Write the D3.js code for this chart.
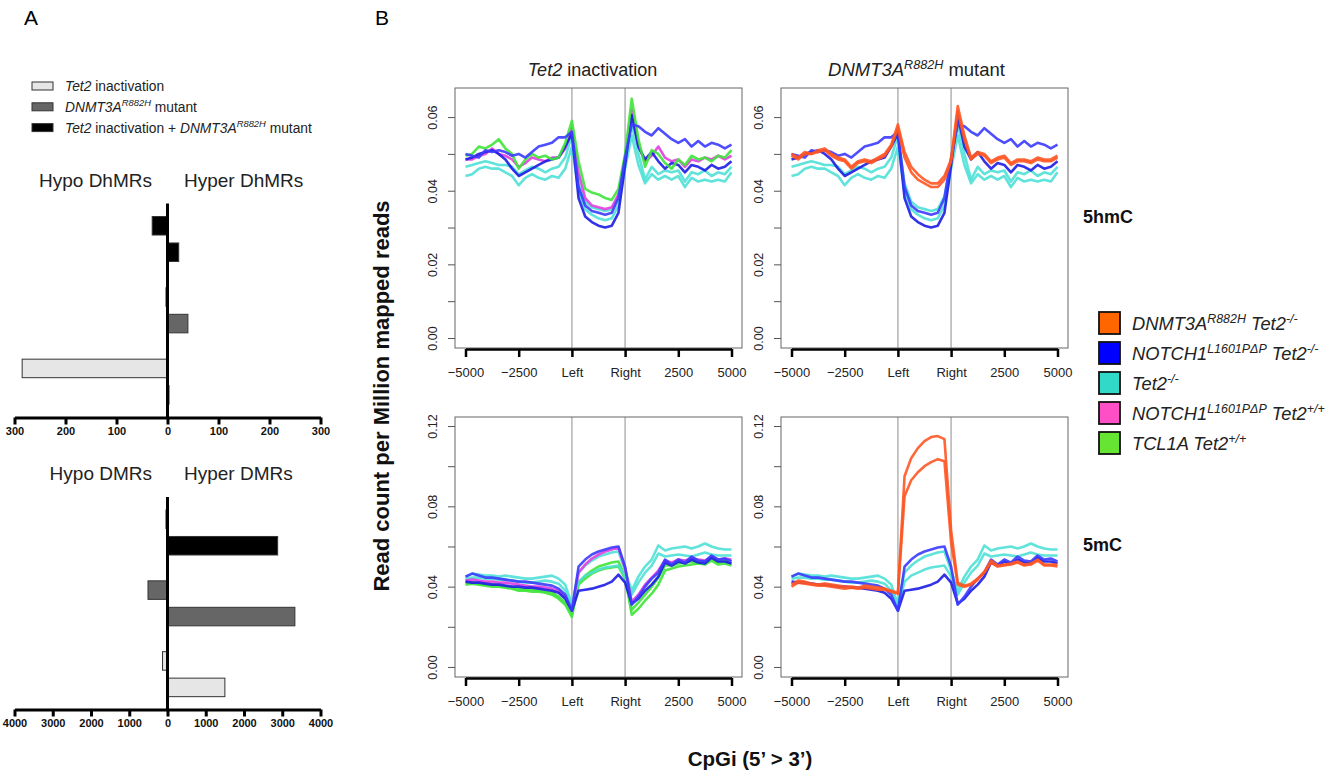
<!DOCTYPE html>
<html>
<head>
<meta charset="utf-8">
<script src="https://cdn.jsdelivr.net/npm/d3@7"></script>
<style>
body { margin: 0; background: #fff; }
svg { font-family: "Liberation Sans", Arial, Helvetica, sans-serif; }
text { white-space: pre; }
</style>
</head>
<body>
<svg id="fig" width="1343" height="777"></svg>
<script>
// ---------- Panel A data (number of regions) ----------
const barGroups = ['both', 'dnmt3a', 'tet2'];
const dhmrHypo = [-30, -3, -285];
const dhmrHyper = [22, 40, 3];
const dmrHypo = [-40, -510, -130];
const dmrHyper = [2880, 3330, 1500];
const dhmrTicks = [-300, -200, -100, 0, 100, 200, 300];
const dmrTicks = [-4000, -3000, -2000, -1000, 0, 1000, 2000, 3000, 4000];

// ---------- Panel B data (read count per million, x 1e-3) ----------
// 41 bins: 0-16 upstream flank, 16-24 CpG island body, 24-40 downstream flank
const bins = d3.range(41);
const xTickBins = [0, 8, 16, 24, 32, 40];
const xTickLabels = ['\u22125000', '\u22122500', 'Left', 'Right', '2500', '5000'];

// 5hmC
const hmcBlueHi = [50.0, 49.5, 49.0, 51.0, 50.5, 51.0, 50.5, 49.5, 50.0, 49.0, 50.5, 52.0, 52.5, 53.0, 54.5, 54.5, 56.0,
  41.0, 36.0, 34.5, 34.0, 33.5, 34.0, 38.0, 49.0,
  58.0, 57.5, 56.0, 55.0, 57.0, 55.5, 54.0, 53.0, 54.0, 52.0, 53.5, 52.0, 53.0, 52.5, 51.5, 52.5];
const hmcBlueLo = [48.5, 49.0, 50.0, 50.5, 51.0, 50.0, 48.5, 46.0, 44.0, 45.0, 46.0, 47.0, 48.0, 48.5, 49.0, 52.0, 55.5,
  38.0, 33.0, 31.5, 30.5, 30.0, 30.5, 34.0, 47.0,
  60.5, 52.0, 48.5, 50.5, 48.0, 46.0, 47.5, 47.0, 45.0, 47.0, 46.5, 45.5, 47.0, 46.0, 46.5, 48.0];
const hmcTurqA = [46.5, 47.0, 47.5, 48.0, 47.5, 47.0, 47.0, 46.5, 44.5, 45.5, 46.5, 46.0, 45.0, 46.0, 46.5, 49.0, 55.0,
  42.0, 37.0, 35.5, 35.0, 34.5, 35.0, 38.5, 48.0,
  58.0, 50.0, 43.0, 46.5, 44.5, 45.5, 45.0, 45.5, 42.5, 45.0, 44.5, 45.5, 44.0, 45.0, 44.5, 46.5];
const hmcTurqB = [44.0, 44.5, 46.0, 46.5, 46.0, 46.0, 45.0, 44.0, 41.5, 43.5, 44.5, 43.5, 43.0, 44.0, 43.5, 46.0, 52.0,
  40.0, 35.0, 33.5, 32.5, 32.0, 32.5, 36.0, 46.0,
  55.0, 47.0, 42.0, 44.5, 43.0, 44.0, 43.0, 44.0, 41.0, 43.5, 42.5, 43.0, 42.5, 43.0, 42.5, 45.0];
const hmcMagenta = [48.5, 48.5, 49.5, 50.0, 51.5, 50.0, 49.5, 48.5, 46.5, 47.5, 49.0, 48.5, 48.0, 49.0, 49.0, 51.5, 57.0,
  45.0, 38.0, 36.0, 35.5, 35.0, 35.5, 39.0, 49.0,
  62.0, 52.0, 48.0, 49.5, 52.0, 49.0, 48.0, 48.5, 46.5, 48.5, 48.0, 49.0, 48.5, 49.5, 48.5, 49.5];
const hmcGreen = [49.5, 50.0, 52.0, 51.5, 52.5, 54.0, 51.5, 50.0, 46.0, 48.5, 50.0, 49.0, 49.5, 48.5, 49.0, 53.0, 59.0,
  48.0, 40.5, 39.5, 39.0, 38.0, 37.5, 40.5, 50.0,
  65.0, 54.0, 46.5, 51.0, 50.0, 47.5, 46.0, 48.5, 47.0, 49.5, 48.5, 49.0, 48.0, 49.5, 49.0, 51.0];
const hmcOrangeA = [50.0, 49.0, 50.5, 50.0, 51.0, 51.5, 50.0, 49.0, 48.5, 46.5, 48.0, 48.5, 48.0, 49.0, 50.0, 52.5, 58.0,
  50.5, 46.5, 44.5, 43.0, 42.0, 42.0, 44.0, 48.5,
  63.0, 55.0, 49.0, 50.5, 50.0, 48.0, 49.0, 49.5, 47.5, 48.5, 48.5, 48.0, 49.0, 48.5, 48.5, 49.5];
const hmcOrangeB = [49.5, 48.5, 50.0, 50.0, 50.5, 51.0, 49.5, 48.5, 48.0, 46.0, 47.5, 48.0, 47.5, 48.5, 49.5, 52.0, 57.0,
  49.0, 45.0, 43.0, 42.0, 41.0, 41.0, 43.0, 48.0,
  61.5, 54.0, 48.5, 50.0, 49.5, 47.5, 48.5, 49.0, 47.0, 48.0, 48.0, 47.5, 48.5, 48.0, 48.0, 49.0];

// 5mC
const mcBlueHi = [45.0, 46.5, 45.5, 44.5, 44.5, 44.0, 43.5, 43.0, 42.5, 42.5, 42.0, 41.5, 41.0, 40.5, 39.0, 36.0, 28.0,
  50.0, 53.5, 56.0, 57.5, 58.5, 59.5, 60.0, 50.0,
  31.0, 35.0, 40.0, 44.0, 47.0, 53.5, 51.0, 53.5, 52.0, 55.0, 53.0, 52.5, 55.5, 53.5, 54.0, 52.5];
const mcBlueLo = [42.5, 42.0, 42.0, 41.5, 41.0, 41.0, 40.5, 40.0, 40.0, 39.5, 39.5, 39.0, 38.5, 38.0, 37.0, 34.0, 28.0,
  38.0, 38.5, 39.0, 40.0, 41.0, 42.5, 46.0, 42.0,
  31.5, 34.0, 38.0, 41.0, 45.0, 52.0, 50.5, 52.5, 51.5, 53.5, 52.0, 51.5, 54.5, 52.5, 52.5, 51.5];
const mcTurqA = [45.0, 46.5, 46.0, 45.5, 45.5, 45.0, 45.5, 45.0, 44.5, 44.0, 44.0, 44.5, 45.0, 45.5, 44.0, 41.0, 31.0,
  47.0, 50.5, 53.0, 55.0, 56.0, 57.0, 57.5, 48.0,
  38.0, 45.0, 50.0, 53.5, 60.5, 58.0, 59.0, 59.5, 60.0, 59.0, 60.0, 61.5, 60.0, 59.0, 58.5, 58.5];
const mcTurqB = [44.0, 44.5, 44.5, 44.0, 44.0, 43.5, 43.5, 43.0, 42.5, 42.0, 42.0, 42.5, 43.0, 42.5, 41.5, 38.0, 30.0,
  42.5, 45.5, 47.0, 48.5, 49.5, 50.0, 50.5, 45.0,
  36.0, 42.0, 47.0, 50.5, 56.5, 55.0, 55.5, 56.0, 55.5, 55.0, 56.0, 57.0, 56.0, 55.5, 55.5, 55.5];
const mcMagenta = [43.0, 43.5, 43.0, 42.5, 42.5, 42.0, 42.0, 41.5, 41.0, 40.5, 40.0, 40.0, 39.5, 39.0, 38.0, 35.0, 28.5,
  47.0, 51.0, 54.0, 56.0, 57.5, 58.5, 59.5, 49.0,
  32.5, 36.0, 41.0, 44.5, 48.0, 53.0, 52.0, 53.5, 53.0, 54.0, 53.5, 53.0, 55.0, 53.5, 54.0, 53.5];
const mcGreenA = [41.0, 41.5, 41.0, 40.5, 40.0, 40.0, 39.5, 39.0, 38.0, 38.0, 37.5, 37.5, 37.0, 36.0, 34.0, 31.0, 25.0,
  42.0, 45.5, 48.0, 50.0, 51.0, 52.0, 52.5, 45.0,
  26.0, 29.0, 33.0, 36.5, 41.0, 48.0, 49.0, 50.0, 50.5, 51.0, 51.5, 51.0, 53.0, 51.0, 51.5, 50.5];
const mcGreenB = [42.0, 42.0, 41.5, 41.0, 41.0, 40.5, 40.0, 39.5, 39.0, 38.5, 38.5, 38.0, 37.5, 37.0, 35.0, 32.0, 26.5,
  41.0, 44.0, 46.5, 48.0, 49.0, 49.5, 50.0, 44.0,
  28.5, 32.0, 36.0, 40.0, 44.5, 50.5, 50.5, 51.5, 52.0, 52.5, 52.0, 52.0, 54.0, 52.0, 53.0, 51.5];
const mcOrangeA = [41.0, 43.0, 42.5, 41.5, 41.0, 41.5, 41.0, 40.5, 40.0, 40.0, 39.5, 40.5, 40.0, 39.5, 39.0, 38.0, 37.0,
  95.0, 104.0, 109.0, 112.5, 114.5, 115.0, 113.5, 68.0,
  42.0, 40.5, 41.5, 44.0, 47.5, 53.0, 50.5, 51.0, 51.5, 52.5, 51.0, 51.5, 53.5, 51.0, 51.0, 51.0];
const mcOrangeB = [40.0, 42.0, 41.5, 41.0, 40.5, 40.5, 40.0, 39.5, 39.0, 39.5, 39.0, 39.5, 39.0, 38.5, 38.5, 37.5, 36.5,
  85.0, 93.0, 97.0, 100.0, 102.0, 103.5, 102.5, 62.0,
  41.0, 40.0, 41.0, 43.5, 47.0, 52.0, 50.0, 50.5, 51.0, 52.0, 50.5, 51.0, 53.0, 50.5, 50.5, 50.0];

const legendLabels = [
  [{t: 'DNMT3A', it: 1}, {t: 'R882H', it: 1, sup: 1}, {t: ' Tet2', it: 1}, {t: '-/-', it: 1, sup: 1}],
  [{t: 'NOTCH1', it: 1}, {t: 'L1601P\u0394P', it: 1, sup: 1}, {t: ' Tet2', it: 1}, {t: '-/-', it: 1, sup: 1}],
  [{t: 'Tet2', it: 1}, {t: '-/-', it: 1, sup: 1}],
  [{t: 'NOTCH1', it: 1}, {t: 'L1601P\u0394P', it: 1, sup: 1}, {t: ' Tet2', it: 1}, {t: '+/+', it: 1, sup: 1}],
  [{t: 'TCL1A Tet2', it: 1}, {t: '+/+', it: 1, sup: 1}]
];
const legendSwatch = ['#ff6600', '#0000ff', '#30d9c8', '#ff4fc6', '#66e633'];

// ---------- styles ----------
const FONT = '"Liberation Sans", Arial, Helvetica, sans-serif';
const barFill = {both: '#000000', dnmt3a: '#666666', tet2: '#e6e6e6'};
const col = {blueHi: '#3b3bff', blueLo: '#1c1ce6', turq: '#4ee0d6', magenta: '#e13fe0', green: '#3fe63a', orange: '#ff5522'};

const svg = d3.select('#fig');

function richText(sel, parts, fs) {
  let up = false;
  parts.forEach(p => {
    const t = sel.append('tspan').text(p.t);
    if (p.it) t.attr('font-style', 'italic');
    if (p.sup) {
      t.attr('font-size', fs * 0.68);
      if (!up) { t.attr('dy', -fs * 0.4); up = true; }
    } else if (up) {
      t.attr('dy', fs * 0.4); up = false;
    }
  });
  return sel;
}

// ---------- Panel A ----------
svg.append('text').attr('x', 24).attr('y', 25).attr('font-size', 21).text('A');

const aLegend = [
  {k: 'tet2', parts: [{t: 'Tet2', it: 1}, {t: ' inactivation'}]},
  {k: 'dnmt3a', parts: [{t: 'DNMT3A', it: 1}, {t: 'R882H', it: 1, sup: 1}, {t: ' mutant'}]},
  {k: 'both', parts: [{t: 'Tet2', it: 1}, {t: ' inactivation + '}, {t: 'DNMT3A', it: 1}, {t: 'R882H', it: 1, sup: 1}, {t: ' mutant'}]}
];
aLegend.forEach((d, i) => {
  const yy = 82 + i * 20.8;
  svg.append('rect').attr('x', 32).attr('y', yy).attr('width', 21).attr('height', 8)
    .attr('fill', barFill[d.k]).attr('stroke', '#333').attr('stroke-width', 1);
  richText(svg.append('text').attr('x', 65).attr('y', yy + 9).attr('font-size', 13.8).attr('fill', '#222'), d.parts, 13.8);
});

function drawBars(top, bottom, domainMax, ticks, hypo, hyper, titleY, titles) {
  const x = d3.scaleLinear().domain([-domainMax, domainMax]).range([14.5, 320.5]);
  const gY = d3.scaleBand().domain(barGroups).range([top, bottom]);
  const inner = d3.scaleBand().domain(['hypo', 'hyper']).range([13, 58]).paddingInner(0.3);
  const g = svg.append('g');
  g.append('text').attr('x', 152).attr('y', titleY).attr('text-anchor', 'end')
    .attr('font-size', 19).attr('fill', '#222').text(titles[0]);
  g.append('text').attr('x', 184).attr('y', titleY).attr('font-size', 19).attr('fill', '#222').text(titles[1]);
  const rows = [];
  barGroups.forEach((k, i) => {
    rows.push({k, side: 'hypo', v: hypo[i]});
    rows.push({k, side: 'hyper', v: hyper[i]});
  });
  g.selectAll('rect.bar').data(rows).join('rect').attr('class', 'bar')
    .attr('x', d => x(Math.min(0, d.v)))
    .attr('width', d => Math.abs(x(d.v) - x(0)))
    .attr('y', d => gY(d.k) + inner(d.side))
    .attr('height', inner.bandwidth())
    .attr('fill', d => barFill[d.k])
    .attr('stroke', '#333').attr('stroke-width', 1);
  g.append('line').attr('x1', x(0)).attr('x2', x(0)).attr('y1', top).attr('y2', bottom)
    .attr('stroke', '#000').attr('stroke-width', 3);
  const ax = g.append('g').attr('transform', `translate(0,${bottom})`)
    .call(d3.axisBottom(x).tickValues(ticks).tickFormat(d => Math.abs(d)).tickSize(7).tickSizeOuter(0).tickPadding(3));
  ax.attr('font-family', FONT);
  ax.select('.domain').attr('stroke', '#000').attr('stroke-width', 3);
  ax.selectAll('.tick line').attr('stroke', '#000').attr('stroke-width', 3);
  ax.selectAll('.tick text').attr('font-size', 11).attr('font-weight', 'bold').attr('fill', '#111');
}

drawBars(203.5, 417.5, 300, dhmrTicks, dhmrHypo, dhmrHyper, 187, ['Hypo DhMRs', 'Hyper DhMRs']);
drawBars(497, 709.5, 4000, dmrTicks, dmrHypo, dmrHyper, 480, ['Hypo DMRs', 'Hyper DMRs']);

// ---------- Panel B ----------
svg.append('text').attr('x', 375).attr('y', 25).attr('font-size', 21).text('B');

const BOX_W = 287, BOX_H = 260;
const colX = [455, 781];
const rowY = [88, 417];
const rowDomain = [[-0.00272, 0.0679], [-0.005, 0.1245]];
const rowTicks = [[0, 0.01, 0.02, 0.03, 0.04, 0.05, 0.06], [0, 0.02, 0.04, 0.06, 0.08, 0.10, 0.12]];
const rowLabeled = [[0, 0.02, 0.04, 0.06], [0, 0.04, 0.08, 0.12]];

const panels = [
  {c: 0, r: 0, series: [
    {v: hmcTurqB, c: col.turq}, {v: hmcTurqA, c: col.turq}, {v: hmcMagenta, c: col.magenta},
    {v: hmcBlueLo, c: col.blueLo}, {v: hmcGreen, c: col.green}, {v: hmcBlueHi, c: col.blueHi}]},
  {c: 1, r: 0, series: [
    {v: hmcTurqB, c: col.turq}, {v: hmcTurqA, c: col.turq}, {v: hmcBlueLo, c: col.blueLo},
    {v: hmcBlueHi, c: col.blueHi}, {v: hmcOrangeB, c: col.orange}, {v: hmcOrangeA, c: col.orange}]},
  {c: 0, r: 1, series: [
    {v: mcGreenA, c: col.green}, {v: mcGreenB, c: col.green}, {v: mcTurqB, c: col.turq}, {v: mcTurqA, c: col.turq},
    {v: mcMagenta, c: col.magenta}, {v: mcBlueLo, c: col.blueLo}, {v: mcBlueHi, c: col.blueHi}]},
  {c: 1, r: 1, series: [
    {v: mcTurqB, c: col.turq}, {v: mcTurqA, c: col.turq}, {v: mcBlueLo, c: col.blueLo},
    {v: mcBlueHi, c: col.blueHi}, {v: mcOrangeB, c: col.orange}, {v: mcOrangeA, c: col.orange}]}
];

panels.forEach(p => {
  const x0 = colX[p.c], y0 = rowY[p.r];
  const x = d3.scaleLinear().domain([0, 40]).range([x0 + 10.5, x0 + BOX_W - 10.5]);
  const y = d3.scaleLinear().domain(rowDomain[p.r]).range([y0 + BOX_H, y0]);
  const g = svg.append('g');

  g.selectAll('line.cpg').data([16, 24]).join('line').attr('class', 'cpg')
    .attr('x1', d => x(d)).attr('x2', d => x(d)).attr('y1', y0).attr('y2', y0 + BOX_H)
    .attr('stroke', '#b8b8b8').attr('stroke-width', 1.6);

  const line = d3.line().x((d, i) => x(bins[i])).y(d => y(d / 1000));
  g.selectAll('path.s').data(p.series).join('path').attr('class', 's')
    .attr('d', d => line(d.v))
    .attr('fill', 'none').attr('stroke', d => d.c).attr('stroke-width', 2.6)
    .attr('stroke-linejoin', 'round').attr('stroke-opacity', 0.9);

  g.append('rect').attr('x', x0).attr('y', y0).attr('width', BOX_W).attr('height', BOX_H)
    .attr('fill', 'none').attr('stroke', '#666').attr('stroke-width', 1);

  const xa = g.append('g').attr('transform', `translate(0,${y0 + BOX_H + 1})`)
    .call(d3.axisBottom(x).tickValues(xTickBins).tickFormat((d, i) => xTickLabels[i])
      .tickSize(8).tickSizeOuter(0).tickPadding(11));
  xa.attr('font-family', FONT);
  xa.select('.domain').attr('stroke', '#000').attr('stroke-width', 2.5);
  xa.selectAll('.tick line').attr('stroke', '#000').attr('stroke-width', 2.5);
  xa.selectAll('.tick text').attr('font-size', 13).attr('fill', '#222');

  const ya = g.append('g').attr('transform', `translate(${x0},0)`)
    .call(d3.axisLeft(y).tickValues(rowTicks[p.r])
      .tickFormat(d => rowLabeled[p.r].some(v => Math.abs(v - d) < 1e-9) ? d.toFixed(2) : '')
      .tickSize(7).tickSizeOuter(0));
  ya.attr('font-family', FONT);
  ya.select('.domain').remove();
  ya.selectAll('.tick line').attr('stroke', '#555').attr('stroke-width', 1);
  ya.selectAll('.tick text').attr('x', 0).attr('dy', 0).attr('text-anchor', 'middle')
    .attr('transform', 'translate(-18,0) rotate(-90)')
    .attr('font-size', 12.5).attr('fill', '#222');
});

// column titles
richText(svg.append('text').attr('x', colX[0] + BOX_W / 2 - 6).attr('y', 76).attr('text-anchor', 'middle')
  .attr('font-size', 18).attr('fill', '#222'), [{t: 'Tet2', it: 1}, {t: ' inactivation'}], 18);
richText(svg.append('text').attr('x', colX[1] + BOX_W / 2 - 8).attr('y', 76).attr('text-anchor', 'middle')
  .attr('font-size', 18.5).attr('fill', '#222'), [{t: 'DNMT3A', it: 1}, {t: 'R882H', it: 1, sup: 1}, {t: ' mutant'}], 18.5);

// axis titles
svg.append('text').attr('transform', 'translate(389,396) rotate(-90)').attr('text-anchor', 'middle')
  .attr('font-size', 22).attr('font-weight', 'bold').attr('fill', '#111')
  .text('Read count per Million mapped reads');
svg.append('text').attr('x', 750).attr('y', 766).attr('text-anchor', 'middle')
  .attr('font-size', 20.5).attr('font-weight', 'bold').attr('fill', '#111')
  .text('CpGi (5\u2019 > 3\u2019)');

// row labels
svg.append('text').attr('x', 1083).attr('y', 223).attr('font-size', 18).attr('font-weight', 'bold').attr('fill', '#111').text('5hmC');
svg.append('text').attr('x', 1083).attr('y', 551).attr('font-size', 18).attr('font-weight', 'bold').attr('fill', '#111').text('5mC');

// legend
const lg = svg.append('g');
legendLabels.forEach((parts, i) => {
  const yy = 312 + i * 30;
  lg.append('rect').attr('x', 1099).attr('y', yy).attr('width', 21).attr('height', 22)
    .attr('fill', legendSwatch[i]).attr('stroke', '#111').attr('stroke-width', 1.8);
  richText(lg.append('text').attr('x', 1132).attr('y', yy + 18).attr('font-size', 18.3).attr('fill', '#222'), parts, 18.3);
});
</script>
</body>
</html>
